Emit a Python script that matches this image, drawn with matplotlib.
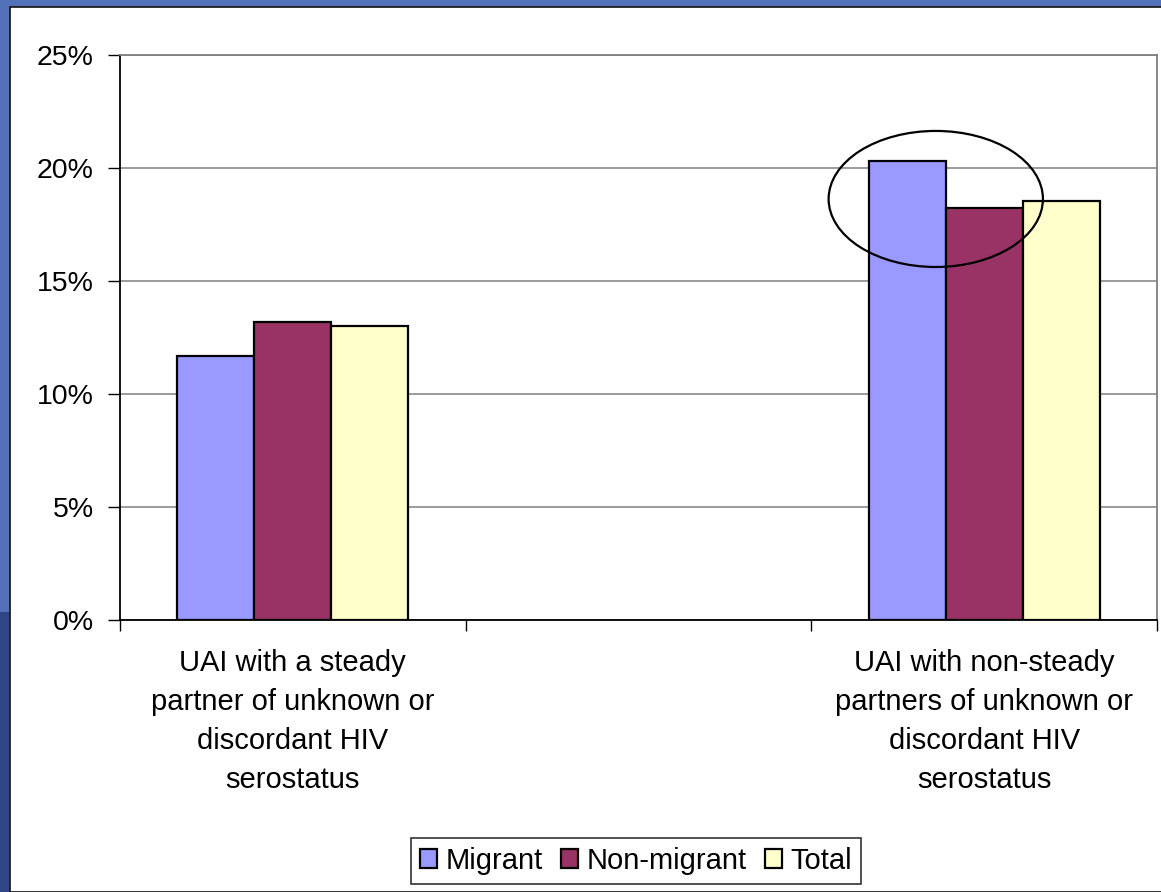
import matplotlib.pyplot as plt
import numpy as np
from matplotlib.patches import Ellipse, Rectangle
from matplotlib.ticker import PercentFormatter, FixedLocator

plt.rcParams['font.family'] = ['Liberation Sans', 'DejaVu Sans']

# data (percent); middle slot on the category axis is empty
categories = [
    "UAI with a steady\npartner of unknown or\ndiscordant HIV\nserostatus",
    "",
    "UAI with non-steady\npartners of unknown or\ndiscordant HIV\nserostatus",
]
migrant = [11.7, np.nan, 20.3]
non_migrant = [13.2, np.nan, 18.25]
total = [13.0, np.nan, 18.55]

series = [("Migrant", migrant, "#9999FF"),
          ("Non-migrant", non_migrant, "#993366"),
          ("Total", total, "#FFFFCC")]

W, H = 1161, 892
fig = plt.figure(figsize=(W / 100, H / 100), dpi=100)
fig.patch.set_facecolor("#5271B9")

# slide frame: darker blue lower-left strip, white panel
fig.patches.append(Rectangle((0, 0), 9 / W, 280 / H, transform=fig.transFigure,
                             facecolor="#2F4685", edgecolor="none", zorder=0))
fig.patches.append(Rectangle((9.5 / W, 0), 1, (H - 7) / H, transform=fig.transFigure,
                             facecolor="white", edgecolor="#111111", linewidth=1.2, zorder=1))

ax = fig.add_axes([120 / W, 1 - 620 / H, (1157 - 120) / W, (620 - 55) / H])
ax.set_facecolor("white")
ax.set_zorder(2)

x = np.arange(len(categories))
bw = 0.223
for i, (name, vals, col) in enumerate(series):
    ax.bar(x + (i - 1) * bw, vals, bw, color=col, edgecolor="black",
           linewidth=1.6, label=name, zorder=3)

ax.set_xlim(-0.5, len(categories) - 0.5)
ax.set_ylim(0, 25)
ax.set_yticks(np.arange(0, 26, 5))
ax.yaxis.set_major_formatter(PercentFormatter(decimals=0))
ax.yaxis.grid(True, color="#808080", linewidth=1.1, zorder=0)
ax.set_axisbelow(True)

# category labels centred, ticks on slot boundaries
ax.set_xticks(x)
ax.set_xticklabels(categories, fontsize=21, linespacing=1.5, va="top")
ax.tick_params(axis="x", which="major", length=0, pad=21)
ax.xaxis.set_minor_locator(FixedLocator(np.arange(len(categories) + 1) - 0.5))
ax.tick_params(axis="x", which="minor", length=8, width=1, color="black", direction="out")
ax.tick_params(axis="y", length=9, width=1, labelsize=20.5, pad=10, direction="out")

ax.spines["left"].set_color("black")
ax.spines["bottom"].set_color("black")
ax.spines["top"].set_color("#808080")
ax.spines["right"].set_color("#808080")
for s in ax.spines.values():
    s.set_linewidth(1.3)

# highlight ring around the non-steady group
ax.add_patch(Ellipse((1.86, 18.63), 0.62, 6.02, fill=False, edgecolor="black",
                     linewidth=1.6, zorder=4, clip_on=False))

leg = fig.legend(loc="center", bbox_to_anchor=(636 / W, 1 - 861 / H), ncol=3,
                 fontsize=21, frameon=True, fancybox=False, edgecolor="black",
                 handlelength=0.6, handleheight=0.6, handletextpad=0.3,
                 columnspacing=0.6, borderpad=0.3)
leg.get_frame().set_linewidth(1.2)
leg.set_zorder(5)

fig.savefig("out.png", dpi=100, facecolor=fig.get_facecolor())
